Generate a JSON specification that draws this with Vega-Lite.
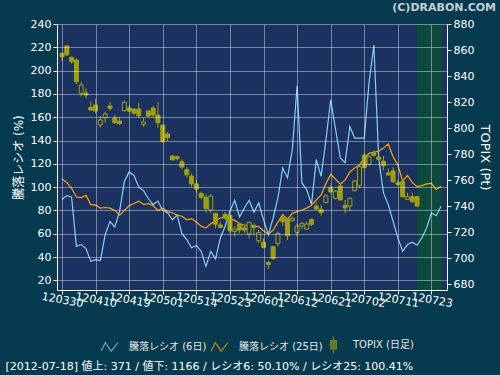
{
  "$schema": "https://vega.github.io/schema/vega-lite/v6.json",
  "width": 390,
  "height": 266,
  "autosize": "none",
  "padding": {"left": 57, "top": 24, "right": 53, "bottom": 85},
  "background": "#063a4f",
  "config": {
    "view": {"fill": "#1b3160", "stroke": null},
    "font": "DejaVu Sans, Noto Sans CJK JP"
  },
  "title": {"text": "(C)DRABON.COM", "anchor": "end", "orient": "top", "frame": "group", "fontSize": 11, "fontWeight": "bold", "color": "#c5ced6", "dx": 49, "offset": 5, "font": "DejaVu Sans"},
  "datasets": {
    "ratio": [
      {"i":0,"r6":89.3,"r25":107},{"i":1,"r6":92.7,"r25":104},{"i":2,"r6":91.6,"r25":99},{"i":3,"r6":49.2,"r25":91.5},{"i":4,"r6":50.7,"r25":91},
      {"i":5,"r6":47.2,"r25":93},{"i":6,"r6":36.3,"r25":85},{"i":7,"r6":37.8,"r25":84.5},{"i":8,"r6":37,"r25":82},{"i":9,"r6":59.2,"r25":82.5},
      {"i":10,"r6":70.6,"r25":82},{"i":11,"r6":65.8,"r25":80},{"i":12,"r6":79.2,"r25":76},{"i":13,"r6":105,"r25":80},{"i":14,"r6":113,"r25":84},
      {"i":15,"r6":110,"r25":86},{"i":16,"r6":100,"r25":88},{"i":17,"r6":97,"r25":85},{"i":18,"r6":90,"r25":86},{"i":19,"r6":85,"r25":84},
      {"i":20,"r6":88,"r25":80},{"i":21,"r6":80,"r25":82},{"i":22,"r6":78,"r25":79},{"i":23,"r6":72,"r25":78},{"i":24,"r6":76,"r25":76},
      {"i":25,"r6":60,"r25":75},{"i":26,"r6":55,"r25":72},{"i":27,"r6":48,"r25":73},{"i":28,"r6":50,"r25":70},{"i":29,"r6":44.9,"r25":66.4},
      {"i":30,"r6":32,"r25":65},{"i":31,"r6":44.9,"r25":68.5},{"i":32,"r6":38.3,"r25":71},{"i":33,"r6":56.4,"r25":73.5},{"i":34,"r6":66.4,"r25":74},
      {"i":35,"r6":79.3,"r25":72.5},{"i":36,"r6":88.7,"r25":71.5},{"i":37,"r6":74.4,"r25":68.5},{"i":38,"r6":82.1,"r25":67.5},{"i":39,"r6":88.7,"r25":67},
      {"i":40,"r6":78.4,"r25":67},{"i":41,"r6":86.4,"r25":66},{"i":42,"r6":72.1,"r25":62.5},{"i":43,"r6":59.2,"r25":59.5},{"i":44,"r6":73.5,"r25":63},
      {"i":45,"r6":90.7,"r25":70},{"i":46,"r6":116.4,"r25":76.4},{"i":47,"r6":107.9,"r25":72.5},{"i":48,"r6":132.2,"r25":77.5},{"i":49,"r6":187,"r25":79},
      {"i":50,"r6":103.6,"r25":80.4},{"i":51,"r6":97.9,"r25":82},{"i":52,"r6":85,"r25":84.5},{"i":53,"r6":123.6,"r25":89},{"i":54,"r6":109.3,"r25":93},
      {"i":55,"r6":140,"r25":103},{"i":56,"r6":175,"r25":111},{"i":57,"r6":150,"r25":106.8},{"i":58,"r6":125,"r25":102.5},{"i":59,"r6":121,"r25":106},
      {"i":60,"r6":152,"r25":113},{"i":61,"r6":142,"r25":116.5},{"i":62,"r6":142,"r25":119},{"i":63,"r6":142,"r25":125},{"i":64,"r6":190,"r25":129},
      {"i":65,"r6":222,"r25":130},{"i":66,"r6":125,"r25":130.8},{"i":67,"r6":95,"r25":133.5},{"i":68,"r6":85,"r25":137},{"i":69,"r6":70.7,"r25":126},
      {"i":70,"r6":56.4,"r25":119},{"i":71,"r6":44.9,"r25":105},{"i":72,"r6":50.7,"r25":110},{"i":73,"r6":52.7,"r25":104},{"i":74,"r6":50.1,"r25":100.41},
      {"i":75,"r6":56.4,"r25":101.3},{"i":76,"r6":65,"r25":102.8},{"i":77,"r6":77.8,"r25":103.2},{"i":78,"r6":75.5,"r25":98},{"i":79,"r6":83.6,"r25":100.7}
    ],
    "candles": [
      {"i":0,"o":857.4,"h":857.9,"l":851.5,"c":854.9},{"i":1,"o":863.1,"h":864.1,"l":855.4,"c":856.2},{"i":2,"o":854.4,"h":854.9,"l":849.5,"c":851.0},
      {"i":3,"o":852.3,"h":853.6,"l":833.8,"c":835.6},{"i":4,"o":826.7,"h":835.6,"l":824.1,"c":833.1},{"i":5,"o":826.9,"h":830.5,"l":822.8,"c":825.4},
      {"i":6,"o":815.9,"h":820.3,"l":813.8,"c":813.8},{"i":7,"o":817.7,"h":822.3,"l":811.3,"c":813.1},{"i":8,"o":802.3,"h":809.2,"l":800.3,"c":806.2},
      {"i":9,"o":808.0,"h":812.6,"l":804.1,"c":810.8},{"i":10,"o":816.9,"h":820.0,"l":813.1,"c":815.1},{"i":11,"o":807.7,"h":810.0,"l":803.1,"c":804.1},
      {"i":12,"o":805.4,"h":808.2,"l":802.3,"c":803.3},{"i":13,"o":813.3,"h":820.8,"l":812.8,"c":819.7},{"i":14,"o":815.4,"h":817.4,"l":812.1,"c":813.1},
      {"i":15,"o":814.6,"h":814.6,"l":810.0,"c":811.5},{"i":16,"o":814.6,"h":819.2,"l":807.9,"c":809.5},{"i":17,"o":802.6,"h":807.7,"l":801.0,"c":804.6},
      {"i":18,"o":813.1,"h":813.1,"l":808.2,"c":809.2},{"i":19,"o":815.4,"h":816.9,"l":808.2,"c":810.0},{"i":20,"o":810.0,"h":820.0,"l":800.3,"c":804.1},
      {"i":21,"o":802.3,"h":802.3,"l":788.7,"c":789.5},{"i":22,"o":795.4,"h":796.9,"l":790.0,"c":792.6},{"i":23,"o":778.5,"h":779.3,"l":775.4,"c":775.4},
      {"i":24,"o":777.9,"h":779.0,"l":775.0,"c":776.4},{"i":25,"o":774,"h":776,"l":768,"c":770},{"i":26,"o":768,"h":770,"l":762,"c":764},
      {"i":27,"o":763,"h":765,"l":755,"c":757},{"i":28,"o":757,"h":760,"l":750,"c":753},{"i":29,"o":749.7,"h":751,"l":745,"c":746.7},
      {"i":30,"o":746.6,"h":749.2,"l":734.9,"c":738.2},{"i":31,"o":736.9,"h":749.2,"l":734.9,"c":747.7},{"i":32,"o":734.4,"h":734.4,"l":722.8,"c":725.9},
      {"i":33,"o":725.4,"h":727.9,"l":722.8,"c":723.6},{"i":34,"o":733.6,"h":735.6,"l":729.2,"c":731.8},{"i":35,"o":732.6,"h":733.6,"l":719.0,"c":721.0},
      {"i":36,"o":720.3,"h":724.6,"l":716.4,"c":722.3},{"i":37,"o":726.2,"h":727.2,"l":719.0,"c":721.5},{"i":38,"o":723.3,"h":724.6,"l":719.5,"c":721.5},
      {"i":39,"o":718.5,"h":728.0,"l":715.1,"c":727.4},{"i":40,"o":724.9,"h":726.7,"l":717.7,"c":723.3},{"i":41,"o":713.3,"h":721.5,"l":711.3,"c":719.7},
      {"i":42,"o":712.1,"h":715.1,"l":707.4,"c":708.2},{"i":43,"o":696.6,"h":697.7,"l":691.5,"c":695.1},{"i":44,"o":708.7,"h":709.2,"l":698.5,"c":699.7},
      {"i":45,"o":711.3,"h":720.2,"l":708.7,"c":718.9},{"i":46,"o":731.0,"h":733.8,"l":724.6,"c":727.9},{"i":47,"o":729.7,"h":730.5,"l":713.8,"c":717.2},
      {"i":48,"o":728.7,"h":731.8,"l":727.9,"c":730.5},{"i":49,"o":719.7,"h":726.7,"l":716.4,"c":724.6},{"i":50,"o":724.6,"h":727.9,"l":722.3,"c":726.4},
      {"i":51,"o":722.3,"h":727.9,"l":721.5,"c":726.2},{"i":52,"o":729.7,"h":730.5,"l":724.6,"c":725.9},{"i":53,"o":740.0,"h":743.3,"l":736.9,"c":737.7},
      {"i":54,"o":737.4,"h":740.8,"l":732.6,"c":734.9},{"i":55,"o":742.6,"h":749.2,"l":742.1,"c":747.7},{"i":56,"o":754.1,"h":756.2,"l":749.7,"c":751.0},
      {"i":57,"o":745.9,"h":752.3,"l":745.1,"c":751.5},{"i":58,"o":755.4,"h":756.2,"l":744.6,"c":744.6},{"i":59,"o":740.3,"h":744.6,"l":734.4,"c":738.5},
      {"i":60,"o":740.0,"h":746.7,"l":736.1,"c":745.9},{"i":61,"o":751.8,"h":760.0,"l":751.0,"c":759.2},{"i":62,"o":755.6,"h":771.5,"l":754.1,"c":770.3},
      {"i":63,"o":779.2,"h":780.5,"l":769.0,"c":769.5},{"i":64,"o":772.0,"h":779.2,"l":771.0,"c":777.9},{"i":65,"o":781.0,"h":782.6,"l":778.0,"c":779.0},
      {"i":66,"o":777.7,"h":778.5,"l":774.9,"c":775.9},{"i":67,"o":774.5,"h":778.5,"l":767.5,"c":771.0},{"i":68,"o":765.4,"h":768.9,"l":763.1,"c":763.9},
      {"i":69,"o":767.0,"h":770.0,"l":758.0,"c":758.7},{"i":70,"o":757.9,"h":760.0,"l":755.4,"c":756.7},{"i":71,"o":758.7,"h":760.0,"l":746.4,"c":747.2},
      {"i":72,"o":745.1,"h":750.3,"l":744.6,"c":747.2},{"i":73,"o":747.2,"h":750.3,"l":742.6,"c":743.3},{"i":74,"o":747.2,"h":747.7,"l":739.0,"c":740.0}
    ],
    "band": [{"i": 74, "i2": 79.2}]
  },
  "encoding": {
    "x": {
      "field": "i", "type": "quantitative",
      "scale": {"domain": [0, 79.2], "nice": false, "zero": false},
      "axis": {
        "values": [0,7,14,21,28,35,42,49,56,63,70,77],
        "labelExpr": "['120330','120410','120419','120501','120514','120523','120601','120612','120621','120702','120711','120723'][round(datum.value/7)]",
        "grid": true, "gridColor": "#ffffff", "gridOpacity": 0.4, "zindex": 1,
        "labelAngle": 10, "labelAlign": "center", "labelBaseline": "middle", "labelPadding": 6,
        "labelFontSize": 11, "labelColor": "#ffffff", "labelOverlap": false, "labelFlush": false, "labelBound": false,
        "tickColor": "#ffffff", "tickSize": 4, "domainColor": "#ffffff",
        "title": "[2012-07-18]  値上: 371 / 値下: 1166 / レシオ6: 50.10% / レシオ25: 100.41%",
        "titleX": -52, "titleY": 76, "titleAlign": "left", "titleAnchor": "start", "titleBaseline": "middle",
        "titleFontSize": 11, "titleFontWeight": "normal", "titleColor": "#ffffff"
      }
    }
  },
  "layer": [
    {
      "data": {"name": "band"},
      "mark": {"type": "rect", "color": "#0c4a3c"},
      "encoding": {"x2": {"field": "i2"}}
    },
    {
      "data": {"name": "ratio"},
      "transform": [{"fold": ["r6", "r25"], "as": ["key", "value"]}],
      "mark": {"type": "line", "strokeWidth": 1.2},
      "encoding": {
        "y": {
          "field": "value", "type": "quantitative",
          "scale": {"domain": [11.7, 240], "nice": false, "zero": false},
          "axis": {
            "orient": "left", "values": [20,40,60,80,100,120,140,160,180,200,220,240],
            "grid": true, "gridColor": "#ffffff", "gridOpacity": 0.4, "zindex": 1,
            "labelColor": "#ffffff", "labelFontSize": 11, "labelPadding": 2,
            "tickColor": "#ffffff", "tickSize": 4, "domainColor": "#ffffff",
            "title": "騰落レシオ (%)", "titleColor": "#ffffff", "titleFontSize": 12, "titleFontWeight": "normal", "titlePadding": 5
          }
        },
        "stroke": {"field": "key", "type": "nominal", "scale": {"domain": ["r6", "r25"], "range": ["#87cefa", "#ffa500"]}, "legend": null}
      }
    },
    {
      "data": {"name": "candles"},
      "layer": [
        {
          "mark": {"type": "rule", "color": "#a0a00c", "strokeWidth": 1},
          "encoding": {
            "y": {
              "field": "l", "type": "quantitative",
              "scale": {"domain": [675.4, 880], "nice": false, "zero": false},
              "axis": {
                "orient": "right", "values": [680,700,720,740,760,780,800,820,840,860,880], "grid": false,
                "labelColor": "#ffffff", "labelFontSize": 11, "labelPadding": 2,
                "tickColor": "#ffffff", "tickSize": 4, "domainColor": "#ffffff",
                "title": "TOPIX (Pt)", "titleAngle": 90, "titleColor": "#ffffff", "titleFontSize": 13, "titleFontWeight": "normal", "titlePadding": 4
              }
            },
            "y2": {"field": "h"}
          }
        },
        {
          "mark": {"type": "bar", "size": 4, "stroke": "#a0a00c", "strokeWidth": 1},
          "encoding": {
            "y": {
              "field": "o", "type": "quantitative",
              "scale": {"domain": [675.4, 880], "nice": false, "zero": false},
              "axis": {
                "orient": "right", "values": [680,700,720,740,760,780,800,820,840,860,880], "grid": false,
                "labelColor": "#ffffff", "labelFontSize": 11, "labelPadding": 2,
                "tickColor": "#ffffff", "tickSize": 4, "domainColor": "#ffffff",
                "title": "TOPIX (Pt)", "titleAngle": 90, "titleColor": "#ffffff", "titleFontSize": 13, "titleFontWeight": "normal", "titlePadding": 4
              }
            },
            "y2": {"field": "c"},
            "fill": {"condition": {"test": "datum.c < datum.o", "value": "#a0a00c"}, "value": "#1b3160"}
          }
        }
      ]
    },
    {
      "data": {"values": []},
      "mark": {"type": "point", "filled": false, "strokeWidth": 1.3},
      "encoding": {
        "color": {
          "field": "series", "type": "nominal",
          "scale": {"domain": ["騰落レシオ (6日)", "騰落レシオ (25日)", "TOPIX (日足)"], "range": ["#87cefa", "#ffa500", "#a0a00c"]},
          "legend": {
            "orient": "none", "legendX": 43, "legendY": 311, "direction": "horizontal", "title": null,
            "symbolSize": 280, "symbolStrokeWidth": 1.3, "labelColor": "#e6e6e6", "labelFontSize": 10, "labelOffset": 10, "columnPadding": 1
          }
        },
        "shape": {
          "field": "series", "type": "nominal",
          "scale": {"domain": ["騰落レシオ (6日)", "騰落レシオ (25日)", "TOPIX (日足)"], "range": ["M-1,0.5L-0.5,-0.5L0.2,0.5L1,-0.5", "M-1,0.5L-0.5,-0.5L0.2,0.5L1,-0.5", "M0,-1V1M-0.35,-0.5H0.35V0.5H-0.35ZM-0.18,-0.5V0.5M0.18,-0.5V0.5"]},
          "legend": {
            "orient": "none", "legendX": 43, "legendY": 311, "direction": "horizontal", "title": null,
            "symbolSize": 280, "symbolStrokeWidth": 1.3, "labelColor": "#e6e6e6", "labelFontSize": 10, "labelOffset": 10, "columnPadding": 1
          }
        }
      }
    }
  ],
  "resolve": {"scale": {"y": "independent"}}
}
